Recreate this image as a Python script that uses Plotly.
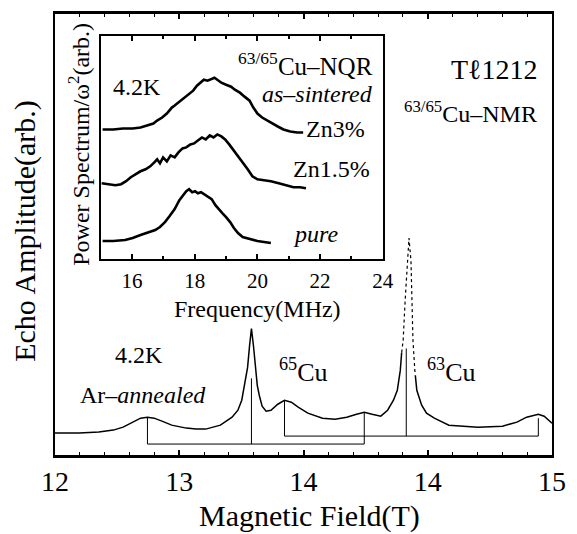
import plotly.graph_objects as go

# ---------------- Main NMR spectrum (field axis units, amplitude arb.) ----------------
nmr_left_field = [12.000, 12.196, 12.352, 12.470, 12.548, 12.626, 12.689, 12.744, 12.798, 12.861,
                  12.939, 13.057, 13.135, 13.213, 13.331, 13.425, 13.472, 13.503, 13.526, 13.550,
                  13.566, 13.581, 13.597, 13.613, 13.628, 13.644, 13.667, 13.699, 13.738, 13.793,
                  13.847, 13.902, 13.957, 14.035, 14.153, 14.254, 14.348, 14.427, 14.489, 14.552,
                  14.622, 14.677, 14.724, 14.755, 14.779, 14.790]
nmr_left_amp = [22, 22, 23, 25, 28, 33, 37, 38, 37, 34,
                30, 27, 26, 26, 30, 38, 45, 55, 70, 88,
                110, 127, 110, 88, 70, 60, 49, 44, 45, 51,
                55, 53, 48, 42, 37, 36, 38, 41, 43, 41,
                39, 45, 55, 65, 85, 103]
nmr_top_field = [14.790, 14.802, 14.818, 14.834, 14.849, 14.865, 14.873, 14.881, 14.896, 14.900]
nmr_top_amp = [103, 115, 155, 195, 218, 195, 155, 115, 85, 80]
nmr_right_field = [14.900, 14.912, 14.951, 14.990, 15.053, 15.170, 15.405, 15.601, 15.718, 15.796,
                   15.890, 15.937, 16.000]
nmr_right_amp = [80, 65, 50, 42, 37, 30, 28, 29, 33, 38,
                 41, 39, 32]

# Quadrupole stick spectra: [low satellite, central line, high satellite]
cu65_field = [12.744, 13.581, 14.489]
cu65_top = [38, 77, 43]
cu65_base = 11
cu63_field = [13.847, 14.827, 15.890]
cu63_top = [55, 107, 37]
cu63_base = 19

main_tickvals = [12, 13, 14, 15, 16]
main_ticktext = ["12", "13", "14", "14", "15"]

# ---------------- Inset NQR power spectra (MHz, arb.) ----------------
zn3_freq = [15.06, 15.40, 15.71, 16.02, 16.27, 16.49, 16.68, 16.80, 16.96, 17.11, 17.27, 17.36,
            17.51, 17.64, 17.79, 17.95, 18.07, 18.20, 18.29, 18.41, 18.54, 18.63, 18.72, 18.85,
            19.00, 19.16, 19.28, 19.44, 19.59, 19.75, 19.87, 20.00, 20.15, 20.31, 20.46, 20.65,
            20.83, 21.05, 21.27, 21.46]
zn3_amp = [130, 130, 131, 131, 132, 134, 136, 139, 142, 146, 152, 154,
           158, 161, 165, 169, 174, 178, 180, 179, 181, 182, 180, 177,
           175, 173, 170, 167, 163, 159, 152, 146, 142, 139, 136, 133,
           130, 128, 127, 127]
zn15_freq = [15.03, 15.25, 15.47, 15.65, 15.81, 15.96, 16.12, 16.27, 16.43, 16.58, 16.71, 16.80,
             16.89, 16.99, 17.11, 17.23, 17.36, 17.48, 17.61, 17.73, 17.86, 17.98, 18.10, 18.23,
             18.35, 18.48, 18.60, 18.72, 18.85, 18.97, 19.10, 19.22, 19.38, 19.53, 19.69, 19.84,
             20.00, 20.21, 20.43, 20.68, 20.93, 21.15, 21.36, 21.55]
zn15_amp = [76, 75, 74, 75, 78, 82, 85, 88, 90, 93, 97, 100,
            96, 102, 98, 104, 102, 107, 111, 112, 115, 116, 119, 122,
            120, 124, 122, 125, 123, 120, 115, 110, 104, 97, 90, 83,
            80, 79, 78, 76, 74, 72, 72, 71]
pure_freq = [15.06, 15.40, 15.78, 16.02, 16.27, 16.49, 16.74, 16.89, 17.05, 17.20, 17.36, 17.51,
             17.64, 17.73, 17.82, 17.92, 18.01, 18.10, 18.20, 18.29, 18.41, 18.54, 18.66, 18.76,
             18.88, 19.00, 19.13, 19.25, 19.38, 19.53, 19.75, 20.00, 20.21, 20.43]
pure_amp = [18, 18, 19, 21, 24, 26, 29, 32, 37, 43, 50, 59,
            65, 68, 70, 67, 68, 66, 67, 65, 62, 60, 54, 50,
            46, 42, 37, 31, 26, 22, 20, 18, 17, 16]

inset_tickvals = [16, 18, 20, 22, 24]

# ---------------- Figure ----------------
W, H = 577, 534
L, R, T, B = 55, 566, 12, 455
FONT = "Liberation Serif, Times New Roman, serif"


def px(xp):
    return (xp - L) / (R - L)


def py(yp):
    return (B - yp) / (B - T)


fig = go.Figure()
line_main = dict(color="black", width=1.5)

fig.add_trace(go.Scatter(x=nmr_left_field, y=nmr_left_amp, mode="lines", line=line_main))
fig.add_trace(go.Scatter(x=nmr_top_field, y=nmr_top_amp, mode="lines",
                         line=dict(color="black", width=1.2, dash="dot")))
fig.add_trace(go.Scatter(x=nmr_right_field, y=nmr_right_amp, mode="lines", line=line_main))

for fld, top, base in [(cu65_field, cu65_top, cu65_base), (cu63_field, cu63_top, cu63_base)]:
    fig.add_trace(go.Scatter(x=[fld[0], fld[0], fld[2], fld[2]],
                             y=[top[0], base, base, top[2]],
                             mode="lines", line=dict(color="black", width=1)))
    fig.add_trace(go.Scatter(x=[fld[1], fld[1]], y=[base, top[1]],
                             mode="lines", line=dict(color="black", width=1)))

inset_line = dict(color="black", width=2.6)
for f, a in [(zn3_freq, zn3_amp), (zn15_freq, zn15_amp), (pure_freq, pure_amp)]:
    fig.add_trace(go.Scatter(x=f, y=a, mode="lines", line=inset_line, xaxis="x2", yaxis="y2"))

fig.update_layout(
    width=W, height=H,
    margin=dict(l=L, r=W - R, t=T, b=H - B),
    paper_bgcolor="white", plot_bgcolor="white",
    showlegend=False,
    font=dict(family=FONT, color="black"),
    xaxis=dict(range=[12, 16], tickmode="array", tickvals=main_tickvals, ticktext=main_ticktext,
               ticks="inside", ticklen=5, tickwidth=1.5, tickcolor="black",
               minor=dict(tickmode="linear", tick0=12, dtick=0.2, ticks="inside", ticklen=3,
                          tickcolor="black", tickwidth=1),
               showline=True, linecolor="black", linewidth=2.5, mirror="ticks",
               showgrid=False, zeroline=False, tickfont=dict(size=28, family=FONT),
               ticklabelstandoff=0),
    yaxis=dict(range=[0, 443], showticklabels=False, ticks="", showline=True, linecolor="black",
               linewidth=2, mirror=True, showgrid=False, zeroline=False),
    xaxis2=dict(domain=[px(102), px(392)], anchor="y2", range=[15, 24], tickmode="array",
                tickvals=inset_tickvals, ticks="inside", ticklen=5, tickcolor="black", tickwidth=1.5,
                minor=dict(tickmode="linear", tick0=15, dtick=1, ticks="inside", ticklen=3,
                           tickcolor="black"),
                showline=True, linecolor="black", linewidth=2, mirror="ticks",
                showgrid=False, zeroline=False, tickfont=dict(size=21, family=FONT),
                ticklabelstandoff=2),
    yaxis2=dict(domain=[py(258), py(34)], anchor="x2", range=[0, 224], showticklabels=False,
                ticks="", showline=True, linecolor="black", linewidth=2, mirror=True,
                showgrid=False, zeroline=False),
)


def txt(text, x, y, size, xanchor="center", angle=0):
    fig.add_annotation(text=text, x=px(x), y=py(y), xref="paper", yref="paper",
                       showarrow=False, xanchor=xanchor, yanchor="middle", textangle=angle,
                       font=dict(size=size, family=FONT, color="black"))


txt("4.2K", 139, 85, 24)
txt("<sup>63/65</sup>Cu–NQR", 384, 62, 25, xanchor="right")
txt("<i>as–sintered</i>", 384, 92, 24, xanchor="right")
txt("Zn3%", 376, 128, 24, xanchor="right")
txt("Zn1.5%", 381, 168, 24, xanchor="right")
txt("<i>pure</i>", 323, 233, 24)
txt("Tℓ1212", 507, 68, 28)
txt("<sup>63/65</sup>Cu–NMR", 553, 110, 24, xanchor="right")
txt("4.2K", 141, 355, 24)
txt("Ar–<i>annealed</i>", 145, 395, 24)
txt("<sup>65</sup>Cu", 310, 370, 26)
txt("<sup>63</sup>Cu", 463, 370, 26)
txt("Frequency(MHz)", 263, 308, 24)
txt("Magnetic Field(T)", 317, 516, 30)
txt("Echo Amplitude(arb.)", 24, 230, 30, angle=-90)
txt("Power Spectrum/ω<sup>2</sup>(arb.)", 80, 143, 24, angle=-90)

fig.write_html("out.html")
